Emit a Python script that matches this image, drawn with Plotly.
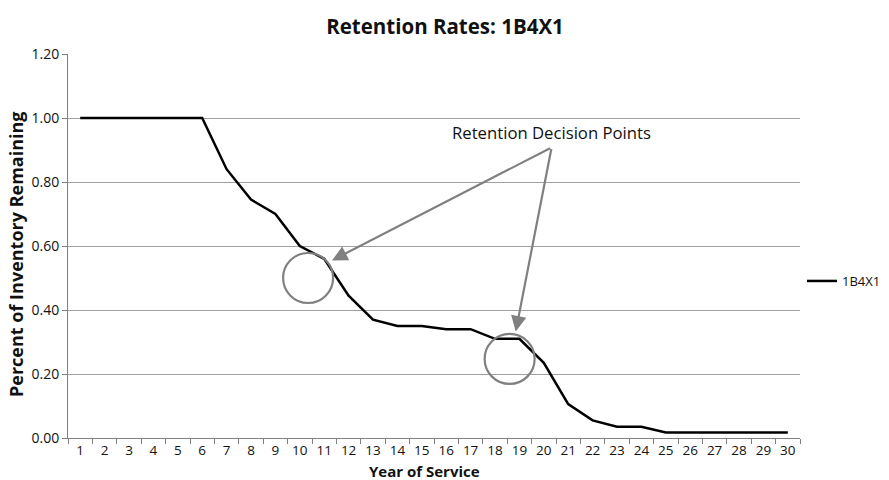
import plotly.graph_objects as go

years = [str(i) for i in range(1, 31)]
retention = [1.00, 1.00, 1.00, 1.00, 1.00, 1.00, 0.84, 0.745, 0.70, 0.60,
             0.56, 0.445, 0.37, 0.35, 0.35, 0.34, 0.34, 0.31, 0.31, 0.235,
             0.106, 0.055, 0.035, 0.035, 0.017, 0.017, 0.017, 0.017, 0.017, 0.017]
series_name = "1B4X1"
y_ticks = [0.0, 0.2, 0.4, 0.6, 0.8, 1.0, 1.2]

# decision-point circles (category index, value)
circles = [(9.34, 0.50), (17.6, 0.247)]
# arrows: (tip x, tip y) from common start
arrow_start = (19.32, 0.908)
arrow_tips = [(10.32, 0.555), (17.85, 0.333)]
note_pos = (19.32, 0.955)
note_text = "Retention Decision Points"

FONT = "Open Sans"
GRAY = "#808080"
GRID = "#a0a0a0"

W, H = 889, 480
ML, MR, MT, MB = 68, 89, 54, 42
PLOT_W = W - ML - MR
PLOT_H = H - MT - MB

fig = go.Figure()
fig.add_trace(go.Scatter(
    x=years, y=retention, mode="lines", name=series_name,
    line=dict(color="black", width=2.5),
))

shapes = []
for cx, cy in circles:
    shapes.append(dict(
        type="circle", xref="x", yref="y", xsizemode="pixel", ysizemode="pixel",
        xanchor=cx, yanchor=cy, x0=-25, x1=25, y0=-25, y1=25,
        line=dict(color=GRAY, width=2.2), fillcolor="rgba(0,0,0,0)",
    ))

annotations = [dict(
    x=note_pos[0], y=note_pos[1], xref="x", yref="y", text=note_text,
    showarrow=False, font=dict(family=FONT, size=16.7, color="#111111"),
)]
for tx, ty in arrow_tips:
    annotations.append(dict(
        x=tx, y=ty, xref="x", yref="y", ax=arrow_start[0], ay=arrow_start[1],
        axref="x", ayref="y", text="", showarrow=True,
        arrowhead=2, arrowsize=1.4, arrowwidth=2.2, arrowcolor=GRAY,
    ))
# axis titles
annotations.append(dict(
    x=(424 - ML) / PLOT_W, xref="paper", y=-(470.5 - (MT + PLOT_H)) / PLOT_H,
    yref="paper", yanchor="middle", xanchor="center",
    text="<b>Year of Service</b>", showarrow=False, borderpad=0,
    font=dict(family=FONT, size=15, color="#111111"),
))
annotations.append(dict(
    x=-(ML - 16) / PLOT_W, xref="paper", y=(MT + PLOT_H - 254) / PLOT_H,
    yref="paper", xanchor="center", yanchor="middle", textangle=-90,
    text="<b>Percent of Inventory Remaining</b>", showarrow=False,
    font=dict(family=FONT, size=18, color="#111111"),
))

fig.update_layout(
    width=W, height=H,
    paper_bgcolor="white", plot_bgcolor="white",
    margin=dict(l=ML, r=MR, t=MT, b=MB),
    title=dict(text="<b>Retention Rates: 1B4X1</b>", x=445 / W, xanchor="center",
               xref="container", y=1 - 27 / H, yref="container", yanchor="middle",
               font=dict(family=FONT, size=20.5, color="#111111")),
    font=dict(family=FONT, size=13, color="#111111"),
    showlegend=True,
    legend=dict(xref="container", yref="container", x=802 / W, y=1 - 281 / H,
                xanchor="left", yanchor="middle",
                font=dict(family=FONT, size=13, color="#111111"),
                bgcolor="rgba(0,0,0,0)"),
    shapes=shapes,
    annotations=annotations,
    xaxis=dict(
        type="category", tickson="boundaries", ticks="outside", ticklen=5,
        tickcolor=GRAY, showline=True, linecolor=GRAY, linewidth=1,
        showgrid=False, range=[-0.5, 29.5], ticklabelstandoff=0, tickangle=0,
        tickfont=dict(family=FONT, size=13.5), automargin=False,
    ),
    yaxis=dict(
        range=[0, 1.2], tickvals=y_ticks, tickformat=".2f", ticks="outside",
        ticklen=5, tickcolor=GRAY, showline=True, linecolor=GRAY, linewidth=1,
        showgrid=True, gridcolor=GRID, gridwidth=1, zeroline=False,
        tickfont=dict(family=FONT, size=14), automargin=False,
    ),
)

# remove the browser's default 8px body margin so the figure fills the window
fig.write_html("out.html", config={"displayModeBar": False},
               post_script="document.body.style.margin='0';")
